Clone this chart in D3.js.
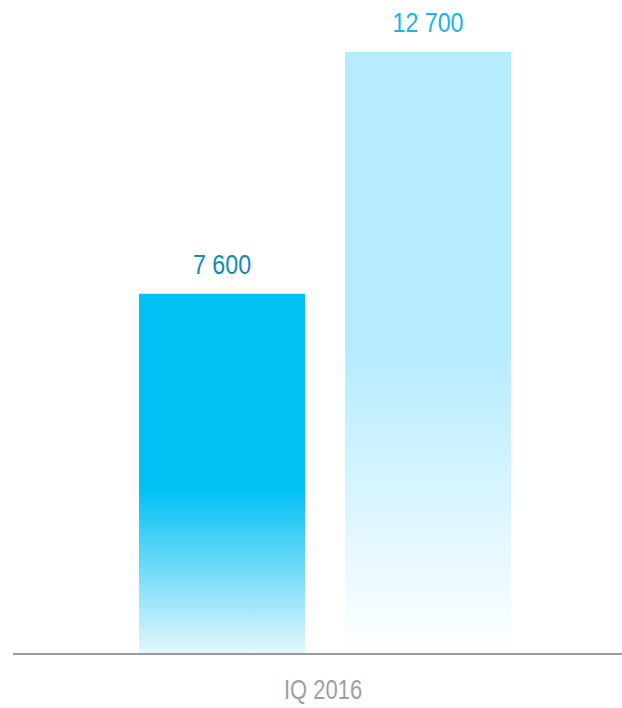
<!DOCTYPE html>
<html>
<head>
<meta charset="utf-8">
<script src="https://cdn.jsdelivr.net/npm/d3@7"></script>
<style>
  html, body { margin: 0; padding: 0; background: #fff; }
  svg { display: block; }
  text { font-family: "Liberation Sans", Arial, sans-serif; }
</style>
</head>
<body>
<svg id="chart" width="622" height="708"></svg>
<script>
const categories = ["IQ 2016"];
const seriesNames = ["Series 1", "Series 2"];
const seriesValues = [7600, 12700];
const valueLabels = ["7 600", "12 700"];
const labelColors = ["#1489b6", "#17b3ea"];

const svg = d3.select("#chart");
const axisY = 654;
const narrow = 0.83;

const x = d3.scaleBand().domain(categories).range([13, 637]);
const xs = d3.scaleBand().domain(seriesNames).range([126, 498]).paddingInner(0.194);
const y = d3.scaleLinear().domain([0, 12700]).range([axisY, 52]);

const defs = svg.append("defs");
const g1 = defs.append("linearGradient").attr("id", "grad0").attr("x1", 0).attr("y1", 0).attr("x2", 0).attr("y2", 1);
[[0, "#00c0f4"], [0.54, "#00c0f4"], [1, "#e6f7fd"]].forEach(([o, c]) => g1.append("stop").attr("offset", o).attr("stop-color", c));
const g2 = defs.append("linearGradient").attr("id", "grad1").attr("x1", 0).attr("y1", 0).attr("x2", 0).attr("y2", 1);
[[0, "#b6ecff"], [0.5, "#b6ecff"], [1, "#ffffff"]].forEach(([o, c]) => g2.append("stop").attr("offset", o).attr("stop-color", c));

const data = seriesNames.map((s, i) => ({ cat: categories[0], s, v: seriesValues[i], label: valueLabels[i], color: labelColors[i], i }));

const grp = svg.append("g");
grp.selectAll("rect.bar").data(data).join("rect")
  .attr("class", "bar")
  .attr("x", d => x(d.cat) + xs(d.s))
  .attr("y", d => y(d.v))
  .attr("width", xs.bandwidth())
  .attr("height", d => y(0) - y(d.v))
  .attr("fill", d => `url(#grad${d.i})`);

grp.selectAll("text.val").data(data).join("text")
  .attr("class", "val")
  .attr("transform", d => `translate(${x(d.cat) + xs(d.s) + xs.bandwidth() / 2},${y(d.v) - 20}) scale(${narrow},1)`)
  .attr("text-anchor", "middle")
  .attr("font-size", 28)
  .attr("fill", d => d.color)
  .text(d => d.label);

const axis = svg.append("g").attr("transform", `translate(0,${axisY})`)
  .call(d3.axisBottom(x).tickSize(0).tickPadding(25));
axis.select(".domain").attr("stroke", "#9a9a9a").attr("stroke-width", 2).attr("d", `M13,0H622`);
axis.selectAll(".tick text")
  .attr("font-size", 27.5)
  .attr("fill", "#a0a0a0")
  .attr("transform", `translate(-2,0) scale(0.8,1)`)
  .style("font-family", '"Liberation Sans", Arial, sans-serif');
</script>
</body>
</html>
